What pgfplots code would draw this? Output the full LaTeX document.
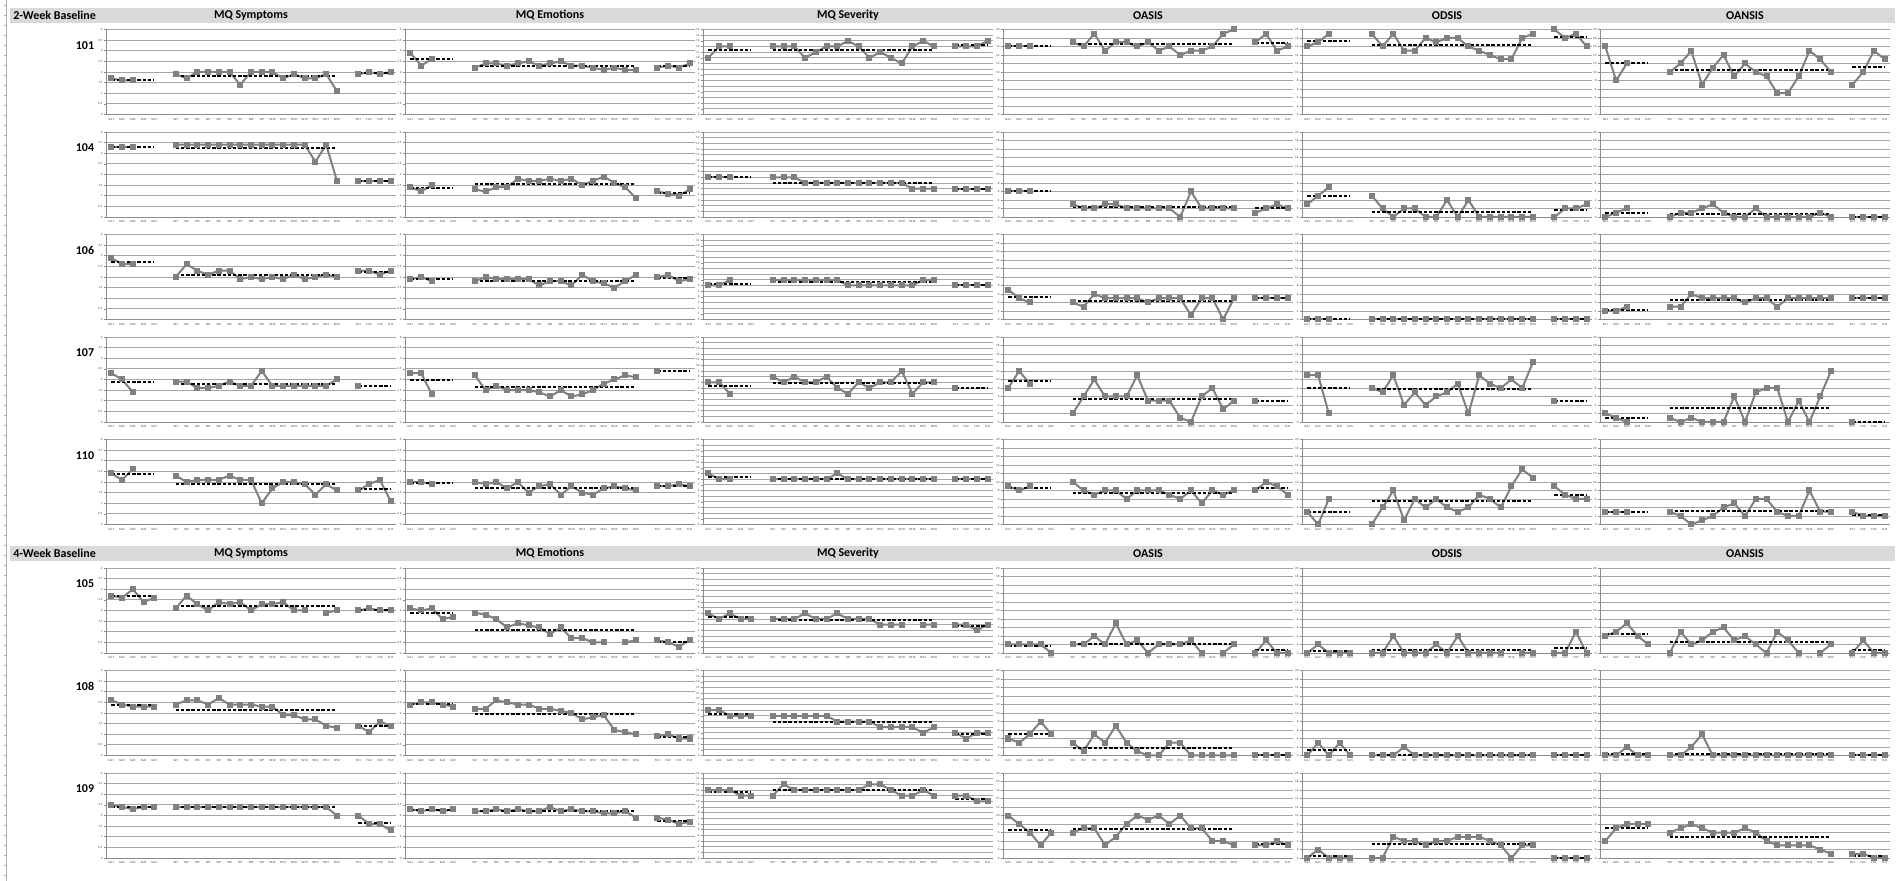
\documentclass[border=0pt]{standalone}
\usepackage{fontspec}
\setmainfont{Carlito}
\usepackage{pgfplots}
\pgfplotsset{compat=1.18}

\definecolor{srs}{RGB}{128,128,128}
\definecolor{grd}{RGB}{165,165,165}
\definecolor{axc}{RGB}{140,140,140}
\definecolor{hdr}{RGB}{217,217,217}

\pgfplotsset{
  panel/.style={scale only axis, width=145pt, height=42.5pt, anchor=north west,
    xmin=0.5, xmax=27.5, ymin=0,
    axis x line=bottom, axis y line=left,
    axis line style={-, draw=axc, line width=0.4pt},
    ymajorgrids, grid style={draw=grd, line width=0.45pt},
    xtick={1,2,3,4,5,7,8,9,10,11,12,13,14,15,16,17,18,19,20,21,22,24,25,26,27},
    xticklabels={bsl1,bsl2,bsl3,bsl4,bsl5,W1,W2,W3,W4,W5,W6,W7,W8,W9,W10,W11,W12,W13,W14,W15,W16,FU1,FU2,FU3,FU4},
    xtick style={draw=none}, ytick style={draw=axc, line width=0.3pt},
    major tick length=1pt, tick align=outside,
    tick label style={font=\fontsize{1.6}{1.9}\selectfont, text=black!75},
    xticklabel style={inner sep=0.6pt}, yticklabel style={inner sep=0.6pt},
    /pgf/number format/assume math mode=true,
    clip=false, unbounded coords=jump},
  pS/.style={panel, ymax=4, ytick={0,0.5,...,4}},
  pV/.style={panel, ymax=15, ytick={0,1,...,15}},
  pA/.style={panel, ymax=20, ytick={0,2,...,20}},
  ser/.style={draw=srs, line width=1pt, mark=square*, mark size=1pt,
    mark options={fill=srs, draw=srs, solid}},
  mean/.style={draw=black, line width=1pt, dash pattern=on 1.7pt off 0.9pt, mark=none},
}

% mean lines: baseline, weekly, follow-up
\newcommand\mn[3]{%
  \addplot[mean] coordinates {(1,#1)(5,#1)};
  \addplot[mean] coordinates {(7,#2)(22,#2)};
  \addplot[mean] coordinates {(24,#3)(27,#3)};}

% panel positions (left edge / top edge of plot area)
\def\cA{53pt}\def\cB{202.5pt}\def\cC{351.5pt}\def\cD{501.5pt}\def\cE{651pt}\def\cF{800pt}
\def\rA{-14.75pt}\def\rB{-66pt}\def\rC{-117.25pt}\def\rD{-168.5pt}\def\rE{-219.75pt}
\def\rF{-284pt}\def\rG{-335.25pt}\def\rH{-386.5pt}

\newcommand\hfont{\fontsize{6}{7}\selectfont\bfseries}

\begin{document}
\begin{tikzpicture}
\path[use as bounding box] (0,0) rectangle (950.5pt,-440.5pt);

\begin{scope}[x=0.5pt,y=-0.5pt]
  % spreadsheet edge
  \draw[black!30, line width=0.3pt] (6,0) -- (6,881);
  \foreach \y in {5,15,...,875} \draw[black!30, line width=0.3pt] (3.5,\y) -- (6,\y);
  % header bars
  \fill[hdr] (10,8) rectangle (1895,23);
  \fill[hdr] (10,546) rectangle (1895,561);
  \foreach \yy/\lab in {15.5/2-Week Baseline, 553.5/4-Week Baseline}{
    \node[anchor=west, font=\hfont, inner sep=0] at (13,\yy) {\lab};
    \node[font=\hfont, inner sep=0] at (251,\yy) {MQ Symptoms};
    \node[font=\hfont, inner sep=0] at (550,\yy) {MQ Emotions};
    \node[font=\hfont, inner sep=0] at (848,\yy) {MQ Severity};
    \node[font=\hfont, inner sep=0] at (1148,\yy) {OASIS};
    \node[font=\hfont, inner sep=0] at (1447,\yy) {ODSIS};
    \node[font=\hfont, inner sep=0] at (1745,\yy) {OANSIS};
  }
  \foreach \yy/\lab in {45.5/101, 148/104, 250.5/106, 353/107, 455.5/110, 584/105, 686.5/108, 789/109}
    \node[font=\hfont, inner sep=0] at (85,\yy) {\lab};
\end{scope}

%%%%%%%%%%%%%%%%%%%% 101
\begin{axis}[pS, at={(\cA,\rA)}]
\addplot[ser] coordinates {(1,1.7)(2,1.6)(3,1.6)};
\addplot[ser] coordinates {(7,1.9)(8,1.7)(9,2)(10,2)(11,2)(12,2)(13,1.4)(14,2)(15,2)(16,2)(17,1.7)(18,1.9)(19,1.7)(20,1.7)(21,1.9)(22,1.1)};
\addplot[ser] coordinates {(24,1.9)(25,2)(26,1.9)(27,2)};
\mn{1.63}{1.81}{1.95}
\end{axis}
\begin{axis}[pS, at={(\cB,\rA)}]
\addplot[ser] coordinates {(1,2.9)(2,2.3)(3,2.6)};
\addplot[ser] coordinates {(7,2.2)(8,2.4)(9,2.4)(10,2.3)(11,2.4)(12,2.5)(13,2.3)(14,2.4)(15,2.5)(16,2.3)(17,2.3)(18,2.2)(19,2.1)(20,2.2)(21,2.1)(22,2.1)};
\addplot[ser] coordinates {(24,2.2)(25,2.3)(26,2.2)(27,2.4)};
\mn{2.6}{2.29}{2.28}
\end{axis}
\begin{axis}[pV, at={(\cC,\rA)}]
\addplot[ser] coordinates {(1,10)(2,12)(3,12)};
\addplot[ser] coordinates {(7,12)(8,12)(9,12)(10,10)(11,11)(12,12)(13,12)(14,13)(15,12)(16,10)(17,11)(18,10)(19,9)(20,12)(21,13)(22,12)};
\addplot[ser] coordinates {(24,12)(25,12)(26,12)(27,13)};
\mn{11.33}{11.44}{12.25}
\end{axis}
\begin{axis}[pA, at={(\cD,\rA)}]
\addplot[ser] coordinates {(1,16)(2,16)(3,16)};
\addplot[ser] coordinates {(7,17)(8,16)(9,19)(10,15)(11,17)(12,17)(13,16)(14,17)(15,15)(16,16)(17,14)(18,15)(19,15)(20,16)(21,19)(22,20)};
\addplot[ser] coordinates {(24,17)(25,19)(26,15)(27,16)};
\mn{16}{16.5}{16.75}
\end{axis}
\begin{axis}[pA, at={(\cE,\rA)}]
\addplot[ser] coordinates {(1,16)(2,17)(3,19)};
\addplot[ser] coordinates {(7,19)(8,16)(9,19)(10,15)(11,15)(12,18)(13,17)(14,18)(15,18)(16,16)(17,15)(18,14)(19,13)(20,13)(21,18)(22,19)};
\addplot[ser] coordinates {(24,20)(25,18)(26,19)(27,16)};
\mn{17.33}{16.44}{18.25}
\end{axis}
\begin{axis}[pA, at={(\cF,\rA)}]
\addplot[ser] coordinates {(1,16)(2,8)(3,12)};
\addplot[ser] coordinates {(7,10)(8,12)(9,15)(10,7)(11,11)(12,14)(13,9)(14,12)(15,10)(16,9)(17,5)(18,5)(19,9)(20,15)(21,13)(22,10)};
\addplot[ser] coordinates {(24,7)(25,10)(26,15)(27,13)};
\mn{12}{10.38}{11.25}
\end{axis}

%%%%%%%%%%%%%%%%%%%% 104
\begin{axis}[pS, at={(\cA,\rB)}]
\addplot[ser] coordinates {(1,3.3)(2,3.3)(3,3.3)};
\addplot[ser] coordinates {(7,3.4)(8,3.4)(9,3.4)(10,3.4)(11,3.4)(12,3.4)(13,3.4)(14,3.4)(15,3.4)(16,3.4)(17,3.4)(18,3.4)(19,3.4)(20,2.6)(21,3.4)(22,1.7)};
\addplot[ser] coordinates {(24,1.7)(25,1.7)(26,1.7)(27,1.7)};
\mn{3.3}{3.24}{1.7}
\end{axis}
\begin{axis}[pS, at={(\cB,\rB)}]
\addplot[ser] coordinates {(1,1.4)(2,1.2)(3,1.5)};
\addplot[ser] coordinates {(7,1.3)(8,1.2)(9,1.4)(10,1.4)(11,1.8)(12,1.7)(13,1.7)(14,1.8)(15,1.7)(16,1.8)(17,1.5)(18,1.7)(19,1.9)(20,1.6)(21,1.4)(22,0.9)};
\addplot[ser] coordinates {(24,1.2)(25,1.1)(26,1.0)(27,1.3)};
\mn{1.37}{1.55}{1.15}
\end{axis}
\begin{axis}[pV, at={(\cC,\rB)}]
\addplot[ser] coordinates {(1,7)(2,7)(3,7)};
\addplot[ser] coordinates {(7,7)(8,7)(9,7)(10,6)(11,6)(12,6)(13,6)(14,6)(15,6)(16,6)(17,6)(18,6)(19,6)(20,5)(21,5)(22,5)};
\addplot[ser] coordinates {(24,5)(25,5)(26,5)(27,5)};
\mn{7}{6}{5}
\end{axis}
\begin{axis}[pA, at={(\cD,\rB)}]
\addplot[ser] coordinates {(1,6)(2,6)(3,6)};
\addplot[ser] coordinates {(7,3)(8,2)(9,2)(10,3)(11,3)(12,2)(13,2)(14,2)(15,2)(16,2)(17,0)(18,6)(19,2)(20,2)(21,2)(22,2)};
\addplot[ser] coordinates {(24,1)(25,2)(26,3)(27,2)};
\mn{6}{2.31}{2}
\end{axis}
\begin{axis}[pA, at={(\cE,\rB)}]
\addplot[ser] coordinates {(1,3)(2,5)(3,7)};
\addplot[ser] coordinates {(7,5)(8,2)(9,0)(10,2)(11,2)(12,0)(13,0)(14,4)(15,0)(16,4)(17,0)(18,0)(19,0)(20,0)(21,0)(22,0)};
\addplot[ser] coordinates {(24,0)(25,2)(26,2)(27,3)};
\mn{5}{1.19}{1.75}
\end{axis}
\begin{axis}[pA, at={(\cF,\rB)}]
\addplot[ser] coordinates {(1,0)(2,1)(3,2)};
\addplot[ser] coordinates {(7,0)(8,1)(9,1)(10,2)(11,3)(12,1)(13,0)(14,0)(15,2)(16,0)(17,0)(18,0)(19,0)(20,0)(21,1)(22,0)};
\addplot[ser] coordinates {(24,0)(25,0)(26,0)(27,0)};
\mn{1}{0.69}{0}
\end{axis}

%%%%%%%%%%%%%%%%%%%% 106
\begin{axis}[pS, at={(\cA,\rC)}]
\addplot[ser] coordinates {(1,2.9)(2,2.6)(3,2.6)};
\addplot[ser] coordinates {(7,2.0)(8,2.6)(9,2.3)(10,2.1)(11,2.3)(12,2.3)(13,1.9)(14,2.0)(15,1.9)(16,2.0)(17,1.9)(18,2.1)(19,1.9)(20,2.0)(21,2.1)(22,2.0)};
\addplot[ser] coordinates {(24,2.3)(25,2.3)(26,2.1)(27,2.3)};
\mn{2.7}{2.09}{2.25}
\end{axis}
\begin{axis}[pS, at={(\cB,\rC)}]
\addplot[ser] coordinates {(1,1.9)(2,2.0)(3,1.8)};
\addplot[ser] coordinates {(7,1.8)(8,2.0)(9,1.9)(10,1.9)(11,1.9)(12,1.9)(13,1.6)(14,1.8)(15,1.8)(16,1.6)(17,2.1)(18,1.8)(19,1.7)(20,1.5)(21,1.8)(22,2.1)};
\addplot[ser] coordinates {(24,2.0)(25,2.1)(26,1.8)(27,1.9)};
\mn{1.9}{1.83}{1.95}
\end{axis}
\begin{axis}[pV, at={(\cC,\rC)}]
\addplot[ser] coordinates {(1,6)(2,6)(3,7)};
\addplot[ser] coordinates {(7,7)(8,7)(9,7)(10,7)(11,7)(12,7)(13,7)(14,6)(15,6)(16,6)(17,6)(18,6)(19,6)(20,6)(21,7)(22,7)};
\addplot[ser] coordinates {(24,6)(25,6)(26,6)(27,6)};
\mn{6.33}{6.56}{6}
\end{axis}
\begin{axis}[pA, at={(\cD,\rC)}]
\addplot[ser] coordinates {(1,7)(2,5)(3,4)};
\addplot[ser] coordinates {(7,4)(8,3)(9,6)(10,5)(11,5)(12,5)(13,5)(14,4)(15,5)(16,5)(17,5)(18,1)(19,5)(20,5)(21,0)(22,5)};
\addplot[ser] coordinates {(24,5)(25,5)(26,5)(27,5)};
\mn{5.33}{4.25}{5}
\end{axis}
\begin{axis}[pA, at={(\cE,\rC)}]
\addplot[ser] coordinates {(1,0)(2,0)(3,0)};
\addplot[ser] coordinates {(7,0)(8,0)(9,0)(10,0)(11,0)(12,0)(13,0)(14,0)(15,0)(16,0)(17,0)(18,0)(19,0)(20,0)(21,0)(22,0)};
\addplot[ser] coordinates {(24,0)(25,0)(26,0)(27,0)};
\mn{0}{0}{0}
\end{axis}
\begin{axis}[pA, at={(\cF,\rC)}]
\addplot[ser] coordinates {(1,2)(2,2)(3,3)};
\addplot[ser] coordinates {(7,3)(8,3)(9,6)(10,5)(11,5)(12,5)(13,5)(14,4)(15,5)(16,5)(17,3)(18,5)(19,5)(20,5)(21,5)(22,5)};
\addplot[ser] coordinates {(24,5)(25,5)(26,5)(27,5)};
\mn{2.33}{4.63}{5}
\end{axis}

%%%%%%%%%%%%%%%%%%%% 107
\begin{axis}[pS, at={(\cA,\rD)}]
\addplot[ser] coordinates {(1,2.3)(2,2.0)(3,1.4)};
\addplot[ser] coordinates {(7,1.9)(8,1.9)(9,1.6)(10,1.6)(11,1.7)(12,1.9)(13,1.7)(14,1.7)(15,2.4)(16,1.7)(17,1.7)(18,1.7)(19,1.7)(20,1.7)(21,1.7)(22,2.0)};
\addplot[ser] coordinates {(24,1.7)};
\mn{1.9}{1.79}{1.7}
\end{axis}
\begin{axis}[pS, at={(\cB,\rD)}]
\addplot[ser] coordinates {(1,2.3)(2,2.3)(3,1.3)};
\addplot[ser] coordinates {(7,2.2)(8,1.5)(9,1.7)(10,1.5)(11,1.5)(12,1.5)(13,1.4)(14,1.2)(15,1.5)(16,1.2)(17,1.3)(18,1.5)(19,1.8)(20,2.0)(21,2.2)(22,2.1)};
\addplot[ser] coordinates {(24,2.4)};
\mn{1.97}{1.63}{2.4}
\end{axis}
\begin{axis}[pV, at={(\cC,\rD)}]
\addplot[ser] coordinates {(1,7)(2,7)(3,5)};
\addplot[ser] coordinates {(7,8)(8,7)(9,8)(10,7)(11,7)(12,8)(13,6)(14,5)(15,7)(16,6)(17,7)(18,7)(19,9)(20,5)(21,7)(22,7)};
\addplot[ser] coordinates {(24,6)};
\mn{6.33}{6.94}{6}
\end{axis}
\begin{axis}[pA, at={(\cD,\rD)}]
\addplot[ser] coordinates {(1,8)(2,12)(3,9)};
\addplot[ser] coordinates {(7,2)(8,6)(9,10)(10,6)(11,6)(12,6)(13,11)(14,5)(15,5)(16,5)(17,1)(18,0)(19,6)(20,8)(21,3)(22,5)};
\addplot[ser] coordinates {(24,5)};
\mn{9.67}{5.31}{5}
\end{axis}
\begin{axis}[pA, at={(\cE,\rD)}]
\addplot[ser] coordinates {(1,11)(2,11)(3,2)};
\addplot[ser] coordinates {(7,8)(8,7)(9,11)(10,4)(11,7)(12,4)(13,6)(14,7)(15,9)(16,2)(17,11)(18,9)(19,8)(20,10)(21,8)(22,14)};
\addplot[ser] coordinates {(24,5)};
\mn{8}{7.81}{5}
\end{axis}
\begin{axis}[pA, at={(\cF,\rD)}]
\addplot[ser] coordinates {(1,2)(2,1)(3,0)};
\addplot[ser] coordinates {(7,1)(8,0)(9,1)(10,0)(11,0)(12,0)(13,6)(14,0)(15,7)(16,8)(17,8)(18,0)(19,5)(20,0)(21,6)(22,12)};
\addplot[ser] coordinates {(24,0)};
\mn{1}{3.38}{0}
\end{axis}

%%%%%%%%%%%%%%%%%%%% 110
\begin{axis}[pS, at={(\cA,\rE)}]
\addplot[ser] coordinates {(1,2.4)(2,2.1)(3,2.6)};
\addplot[ser] coordinates {(7,2.3)(8,2.0)(9,2.1)(10,2.1)(11,2.1)(12,2.3)(13,2.1)(14,2.1)(15,1.0)(16,1.7)(17,2.0)(18,2.0)(19,1.9)(20,1.4)(21,1.9)(22,1.6)};
\addplot[ser] coordinates {(24,1.6)(25,1.9)(26,2.1)(27,1.1)};
\mn{2.37}{1.91}{1.68}
\end{axis}
\begin{axis}[pS, at={(\cB,\rE)}]
\addplot[ser] coordinates {(1,2.0)(2,2.0)(3,1.9)};
\addplot[ser] coordinates {(7,2.0)(8,1.9)(9,2.0)(10,1.7)(11,2.0)(12,1.5)(13,1.8)(14,1.9)(15,1.4)(16,1.8)(17,1.5)(18,1.4)(19,1.7)(20,1.8)(21,1.7)(22,1.6)};
\addplot[ser] coordinates {(24,1.8)(25,1.8)(26,1.9)(27,1.8)};
\mn{1.97}{1.73}{1.83}
\end{axis}
\begin{axis}[pV, at={(\cC,\rE)}]
\addplot[ser] coordinates {(1,9)(2,8)(3,8)};
\addplot[ser] coordinates {(7,8)(8,8)(9,8)(10,8)(11,8)(12,8)(13,9)(14,8)(15,8)(16,8)(17,8)(18,8)(19,8)(20,8)(21,8)(22,8)};
\addplot[ser] coordinates {(24,8)(25,8)(26,8)(27,8)};
\mn{8.33}{8.06}{8}
\end{axis}
\begin{axis}[pA, at={(\cD,\rE)}]
\addplot[ser] coordinates {(1,9)(2,8)(3,9)};
\addplot[ser] coordinates {(7,10)(8,8)(9,7)(10,8)(11,8)(12,6)(13,8)(14,8)(15,8)(16,7)(17,6)(18,8)(19,5)(20,8)(21,7)(22,8)};
\addplot[ser] coordinates {(24,8)(25,10)(26,9)(27,7)};
\mn{8.67}{7.5}{8.5}
\end{axis}
\begin{axis}[pA, at={(\cE,\rE)}]
\addplot[ser] coordinates {(1,3)(2,0)(3,6)};
\addplot[ser] coordinates {(7,0)(8,4)(9,8)(10,1)(11,6)(12,4)(13,6)(14,4)(15,3)(16,4)(17,7)(18,6)(19,4)(20,9)(21,13)(22,11)};
\addplot[ser] coordinates {(24,9)(25,7)(26,6)(27,6)};
\mn{3}{5.63}{7}
\end{axis}
\begin{axis}[pA, at={(\cF,\rE)}]
\addplot[ser] coordinates {(1,3)(2,3)(3,3)};
\addplot[ser] coordinates {(7,3)(8,2)(9,0)(10,1)(11,2)(12,4)(13,5)(14,2)(15,6)(16,6)(17,3)(18,2)(19,2)(20,8)(21,3)(22,3)};
\addplot[ser] coordinates {(24,3)(25,2)(26,2)(27,2)};
\mn{3}{3.25}{2.25}
\end{axis}

%%%%%%%%%%%%%%%%%%%% 105
\begin{axis}[pS, at={(\cA,\rF)}]
\addplot[ser] coordinates {(1,2.7)(2,2.6)(3,3.0)(4,2.4)(5,2.6)};
\addplot[ser] coordinates {(7,2.1)(8,2.7)(9,2.3)(10,2.0)(11,2.4)(12,2.3)(13,2.4)(14,2.0)(15,2.3)(16,2.3)(17,2.4)(18,2.0)(19,2.0)(20,nan)(21,1.9)(22,2.0)};
\addplot[ser] coordinates {(24,2.0)(25,2.1)(26,2.0)(27,2.0)};
\mn{2.66}{2.21}{2.03}
\end{axis}
\begin{axis}[pS, at={(\cB,\rF)}]
\addplot[ser] coordinates {(1,2.1)(2,2.0)(3,2.1)(4,1.6)(5,1.7)};
\addplot[ser] coordinates {(7,1.9)(8,1.8)(9,1.6)(10,1.2)(11,1.4)(12,1.3)(13,1.2)(14,0.9)(15,1.2)(16,0.7)(17,0.7)(18,0.5)(19,0.5)(20,nan)(21,0.5)(22,0.6)};
\addplot[ser] coordinates {(24,0.6)(25,0.5)(26,0.3)(27,0.6)};
\mn{1.9}{1.07}{0.5}
\end{axis}
\begin{axis}[pV, at={(\cC,\rF)}]
\addplot[ser] coordinates {(1,7)(2,6)(3,7)(4,6)(5,6)};
\addplot[ser] coordinates {(7,6)(8,6)(9,6)(10,7)(11,6)(12,6)(13,7)(14,6)(15,6)(16,6)(17,5)(18,5)(19,5)(20,nan)(21,5)(22,5)};
\addplot[ser] coordinates {(24,5)(25,5)(26,4)(27,5)};
\mn{6.4}{5.8}{4.75}
\end{axis}
\begin{axis}[pA, at={(\cD,\rF)}]
\addplot[ser] coordinates {(1,2)(2,2)(3,2)(4,2)(5,0)};
\addplot[ser] coordinates {(7,2)(8,2)(9,4)(10,2)(11,7)(12,2)(13,3)(14,0)(15,2)(16,2)(17,2)(18,3)(19,0)(20,nan)(21,0)(22,2)};
\addplot[ser] coordinates {(24,0)(25,3)(26,0)(27,0)};
\mn{1.6}{2.2}{0.75}
\end{axis}
\begin{axis}[pA, at={(\cE,\rF)}]
\addplot[ser] coordinates {(1,0)(2,2)(3,0)(4,0)(5,0)};
\addplot[ser] coordinates {(7,0)(8,0)(9,4)(10,0)(11,0)(12,0)(13,2)(14,0)(15,4)(16,0)(17,0)(18,0)(19,0)(20,nan)(21,0)(22,0)};
\addplot[ser] coordinates {(24,0)(25,0)(26,5)(27,0)};
\mn{0.4}{0.67}{1.25}
\end{axis}
\begin{axis}[pA, at={(\cF,\rF)}]
\addplot[ser] coordinates {(1,4)(2,5)(3,7)(4,4)(5,2)};
\addplot[ser] coordinates {(7,0)(8,5)(9,2)(10,3)(11,5)(12,6)(13,3)(14,4)(15,2)(16,0)(17,5)(18,3)(19,0)(20,nan)(21,0)(22,2)};
\addplot[ser] coordinates {(24,0)(25,3)(26,0)(27,0)};
\mn{4.4}{2.67}{0.75}
\end{axis}

%%%%%%%%%%%%%%%%%%%% 108
\begin{axis}[pS, at={(\cA,\rG)}]
\addplot[ser] coordinates {(1,2.6)(2,2.4)(3,2.3)(4,2.3)(5,2.3)};
\addplot[ser] coordinates {(7,2.4)(8,2.6)(9,2.6)(10,2.4)(11,2.7)(12,2.4)(13,2.4)(14,2.4)(15,2.3)(16,2.3)(17,1.9)(18,1.9)(19,1.7)(20,1.7)(21,1.4)(22,1.3)};
\addplot[ser] coordinates {(24,1.4)(25,1.1)(26,1.6)(27,1.4)};
\mn{2.38}{2.15}{1.38}
\end{axis}
\begin{axis}[pS, at={(\cB,\rG)}]
\addplot[ser] coordinates {(1,2.4)(2,2.5)(3,2.5)(4,2.4)(5,2.3)};
\addplot[ser] coordinates {(7,2.2)(8,2.2)(9,2.6)(10,2.5)(11,2.4)(12,2.4)(13,2.2)(14,2.2)(15,2.1)(16,2.0)(17,1.7)(18,1.8)(19,1.9)(20,1.2)(21,1.1)(22,1.0)};
\addplot[ser] coordinates {(24,0.9)(25,1.0)(26,0.8)(27,0.8)};
\mn{2.42}{1.97}{0.88}
\end{axis}
\begin{axis}[pV, at={(\cC,\rG)}]
\addplot[ser] coordinates {(1,8)(2,8)(3,7)(4,7)(5,7)};
\addplot[ser] coordinates {(7,7)(8,7)(9,7)(10,7)(11,7)(12,7)(13,6)(14,6)(15,6)(16,6)(17,5)(18,5)(19,5)(20,5)(21,4)(22,5)};
\addplot[ser] coordinates {(24,4)(25,3)(26,4)(27,4)};
\mn{7.4}{5.94}{3.75}
\end{axis}
\begin{axis}[pA, at={(\cD,\rG)}]
\addplot[ser] coordinates {(1,4)(2,3)(3,5)(4,8)(5,5)};
\addplot[ser] coordinates {(7,3)(8,1)(9,5)(10,3)(11,7)(12,3)(13,1)(14,0)(15,0)(16,3)(17,3)(18,0)(19,0)(20,0)(21,0)(22,0)};
\addplot[ser] coordinates {(24,0)(25,0)(26,0)(27,0)};
\mn{5}{1.81}{0}
\end{axis}
\begin{axis}[pA, at={(\cE,\rG)}]
\addplot[ser] coordinates {(1,0)(2,3)(3,0)(4,3)(5,0)};
\addplot[ser] coordinates {(7,0)(8,0)(9,0)(10,2)(11,0)(12,0)(13,0)(14,0)(15,0)(16,0)(17,0)(18,0)(19,0)(20,0)(21,0)(22,0)};
\addplot[ser] coordinates {(24,0)(25,0)(26,0)(27,0)};
\mn{1.2}{0.13}{0}
\end{axis}
\begin{axis}[pA, at={(\cF,\rG)}]
\addplot[ser] coordinates {(1,0)(2,0)(3,2)(4,0)(5,0)};
\addplot[ser] coordinates {(7,0)(8,0)(9,2)(10,5)(11,0)(12,0)(13,0)(14,0)(15,0)(16,0)(17,0)(18,0)(19,0)(20,0)(21,0)(22,0)};
\addplot[ser] coordinates {(24,0)(25,0)(26,0)(27,0)};
\mn{0.4}{0.44}{0}
\end{axis}

%%%%%%%%%%%%%%%%%%%% 109
\begin{axis}[pS, at={(\cA,\rH)}]
\addplot[ser] coordinates {(1,2.5)(2,2.4)(3,2.3)(4,2.4)(5,2.4)};
\addplot[ser] coordinates {(7,2.4)(8,2.4)(9,2.4)(10,2.4)(11,2.4)(12,2.4)(13,2.4)(14,2.4)(15,2.4)(16,2.4)(17,2.4)(18,2.4)(19,2.4)(20,2.4)(21,2.4)(22,2.0)};
\addplot[ser] coordinates {(24,2.0)(25,1.6)(26,1.6)(27,1.3)};
\mn{2.4}{2.38}{1.63}
\end{axis}
\begin{axis}[pS, at={(\cB,\rH)}]
\addplot[ser] coordinates {(1,2.3)(2,2.2)(3,2.3)(4,2.2)(5,2.3)};
\addplot[ser] coordinates {(7,2.2)(8,2.2)(9,2.3)(10,2.2)(11,2.3)(12,2.2)(13,2.2)(14,2.4)(15,2.2)(16,2.3)(17,2.2)(18,2.2)(19,2.1)(20,2.1)(21,2.2)(22,1.9)};
\addplot[ser] coordinates {(24,1.9)(25,1.8)(26,1.6)(27,1.7)};
\mn{2.26}{2.2}{1.75}
\end{axis}
\begin{axis}[pV, at={(\cC,\rH)}]
\addplot[ser] coordinates {(1,12)(2,12)(3,12)(4,11)(5,11)};
\addplot[ser] coordinates {(7,11)(8,13)(9,12)(10,12)(11,12)(12,12)(13,12)(14,12)(15,12)(16,13)(17,13)(18,12)(19,11)(20,11)(21,12)(22,11)};
\addplot[ser] coordinates {(24,11)(25,11)(26,10)(27,10)};
\mn{11.6}{11.94}{10.5}
\end{axis}
\begin{axis}[pA, at={(\cD,\rH)}]
\addplot[ser] coordinates {(1,10)(2,8)(3,6)(4,3)(5,6)};
\addplot[ser] coordinates {(7,6)(8,7)(9,7)(10,3)(11,5)(12,8)(13,10)(14,9)(15,10)(16,8)(17,10)(18,7)(19,7)(20,4)(21,4)(22,3)};
\addplot[ser] coordinates {(24,3)(25,3)(26,4)(27,3)};
\mn{6.6}{6.75}{3.25}
\end{axis}
\begin{axis}[pA, at={(\cE,\rH)}]
\addplot[ser] coordinates {(1,0)(2,2)(3,0)(4,0)(5,0)};
\addplot[ser] coordinates {(7,0)(8,0)(9,5)(10,4)(11,4)(12,3)(13,4)(14,4)(15,5)(16,5)(17,5)(18,4)(19,3)(20,0)(21,3)(22,3)};
\addplot[ser] coordinates {(24,0)(25,0)(26,0)(27,0)};
\mn{0.4}{3.25}{0}
\end{axis}
\begin{axis}[pA, at={(\cF,\rH)}]
\addplot[ser] coordinates {(1,4)(2,7)(3,8)(4,8)(5,8)};
\addplot[ser] coordinates {(7,6)(8,7)(9,8)(10,7)(11,6)(12,6)(13,6)(14,7)(15,6)(16,4)(17,3)(18,3)(19,3)(20,3)(21,2)(22,1)};
\addplot[ser] coordinates {(24,1)(25,1)(26,0)(27,0)};
\mn{7}{4.88}{0.5}
\end{axis}

\end{tikzpicture}
\end{document}
